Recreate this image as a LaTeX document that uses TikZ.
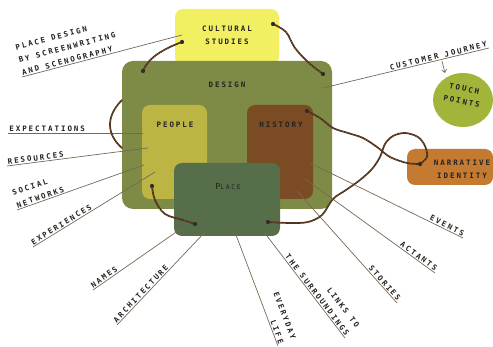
\documentclass[tikz,border=0pt]{standalone}
\usepackage{fontspec}
\usetikzlibrary{arrows.meta,calc,shapes.geometric}
\newfontfamily\labelfont{DejaVu Sans Mono}[LetterSpace=26]

\definecolor{culturalc}{HTML}{F3EF63}
\definecolor{designc}{HTML}{7E8B46}
\definecolor{peoplec}{HTML}{BCB443}
\definecolor{historyc}{HTML}{7B4B23}
\definecolor{placec}{HTML}{566F4A}
\definecolor{narrc}{HTML}{C47B31}
\definecolor{touchc}{HTML}{A3B43B}
\definecolor{linec}{HTML}{7A6654}
\definecolor{ropec}{HTML}{4A2D18}
\definecolor{ropetw}{HTML}{8C6644}
\definecolor{txt}{HTML}{222222}
\definecolor{dotc}{HTML}{2E2E2E}

\tikzset{
  box/.style={rectangle, rounded corners=8pt, inner sep=0pt, draw=none},
  lbl/.style={font=\labelfont\bfseries\fontsize{7.5}{13}\selectfont, text=txt, inner sep=1pt},
  conn/.style={draw=linec, line width=0.7pt},
  rope/.style={draw=ropec, line width=1.7pt, line cap=round},
  ropetwist/.style={draw=ropetw, line width=0.55pt, dash pattern=on 1pt off 1.6pt},
  knot/.style={circle, fill=dotc, inner sep=0pt, minimum size=4pt},
}
\newcommand\ropepath[1]{\draw[rope] #1; \draw[ropetwist] #1;}

\begin{document}
\begin{tikzpicture}[x=1pt,y=-1pt]
\useasboundingbox (0,0) rectangle (493,347);

% --- coloured areas
\node[box, fill=culturalc, minimum width=104pt, minimum height=56pt] (cultural) at (227,37) {};
\node[box, fill=designc, rounded corners=11pt, minimum width=210pt, minimum height=148pt] (design) at (227,135) {};
\node[box, fill=peoplec, minimum width=65pt, minimum height=94pt] (people) at (174.5,152) {};
\node[box, fill=historyc, minimum width=66pt, minimum height=94pt] (history) at (280,152) {};
\node[box, fill=placec, minimum width=106pt, minimum height=73pt] (place) at (227,199.5) {};
\node[box, fill=narrc, minimum width=86pt, minimum height=36pt] (narrative) at (450,167) {};
\node[ellipse, fill=touchc, minimum width=60pt, minimum height=54pt, inner sep=0pt] (touch) at (463,100) {};

% --- area titles
\node[lbl, align=center] (culturaltxt) at (227,35) {CULTURAL\\STUDIES};
\node[lbl] (designtxt) at (227,85) {DESIGN};
\node[lbl] (peopletxt) at (175,125) {PEOPLE};
\node[lbl] (historytxt) at (281,125) {HISTORY};
\node[lbl, font=\labelfont\fontsize{6.4}{13}\selectfont] (placetxt) at (228,186) {{\fontsize{8.4}{13}\selectfont P}LACE};
\node[lbl, align=center] (narrtxt) at (462,169) {NARRATIVE\\IDENTITY};
\node[lbl, align=center, rotate=-12] (touchtxt) at (463,95) {TOUCH\\POINTS};

% --- end points of the label lines
\coordinate (pdA) at (22,77);   \coordinate (pdB) at (182,35);
\coordinate (cjA) at (323,88);  \coordinate (cjB) at (489,48);
\coordinate (exA) at (8,133);   \coordinate (exB) at (143,133);
\coordinate (rsA) at (7,166);   \coordinate (rsB) at (148,148);
\coordinate (snA) at (17,210);  \coordinate (snB) at (144,165);
\coordinate (xpA) at (33,247);  \coordinate (xpB) at (155,172);
\coordinate (nmA) at (93,290);  \coordinate (nmB) at (182,228);
\coordinate (arA) at (117,325); \coordinate (arB) at (205,232);
\coordinate (lfA) at (233,227); \coordinate (lfB) at (278,346);
\coordinate (suA) at (264,232); \coordinate (suB) at (345,338);
\coordinate (stA) at (297,191); \coordinate (stB) at (397,303);
\coordinate (acA) at (305,179); \coordinate (acB) at (435,273);
\coordinate (evA) at (310,163); \coordinate (evB) at (463,238);

% --- label lines with their texts
\draw[conn] (pdA) -- (pdB) node[lbl, at start, sloped, anchor=south west, align=left] (pdtxt) {PLACE DESIGN\\BY SCREENWRITING\\AND SCENOGRAPHY};
\draw[conn] (cjA) -- (cjB) node[lbl, at end, sloped, anchor=south east] (cjtxt) {CUSTOMER JOURNEY};
\draw[conn] (exA) -- (exB) node[lbl, at start, sloped, anchor=south west] (extxt) {EXPECTATIONS};
\draw[conn] (rsA) -- (rsB) node[lbl, at start, sloped, anchor=south west] (rstxt) {RESOURCES};
\draw[conn] (snA) -- (snB) node[lbl, at start, sloped, anchor=south west, align=left] (sntxt) {SOCIAL\\NETWORKS};
\draw[conn] (xpA) -- (xpB) node[lbl, at start, sloped, anchor=south west] (xptxt) {EXPERIENCES};
\draw[conn] (nmA) -- (nmB) node[lbl, at start, sloped, anchor=south west] (nmtxt) {NAMES};
\draw[conn] (arA) -- (arB) node[lbl, at start, sloped, anchor=south west] (artxt) {ARCHITECTURE};
\draw[conn] (lfA) -- (lfB) node[lbl, at end, sloped, anchor=south east, align=right] (lftxt) {EVERYDAY\\LIFE};
\draw[conn] (suA) -- (suB) node[lbl, at end, sloped, anchor=south east, align=right] (sutxt) {LINKS TO\\THE SURROUNDINGS};
\draw[conn] (stA) -- (stB) node[lbl, at end, sloped, anchor=south east] (sttxt) {STORIES};
\draw[conn] (acA) -- (acB) node[lbl, at end, sloped, anchor=south east] (actxt) {ACTANTS};
\draw[conn] (evA) -- (evB) node[lbl, at end, sloped, anchor=south east] (evtxt) {EVENTS};

% small arrow from the journey to the touch points
\coordinate (arrA) at (442,61);
\coordinate (arrB) at (445,73);
\draw[conn, -{Straight Barb[length=3pt,width=5pt]}] (arrA) -- (arrB);

% --- knots of the ropes
\node[knot] (kd1) at (143,71) {};
\node[knot] (kc1) at (182,42) {};
\node[knot] (kc2) at (273,24) {};
\node[knot] (kd2) at (323,74) {};
\node[knot] (kpe) at (152,186) {};
\node[knot] (kpl1) at (195,224) {};
\node[knot] (khi) at (307,111) {};
\node[knot] (kna) at (420,164) {};
\node[knot] (kpl2) at (268,222) {};
\coordinate (r3a) at (122,100);
\coordinate (r3b) at (122,148);

% --- ropes
\ropepath{(kd1.center) .. controls (148,58) and (163,49) .. (kc1.center)}
\ropepath{plot[smooth, tension=0.6] coordinates {(kc2.center) (286,32) (295,48) (309,63) (kd2.center)}}
\ropepath{(r3a) .. controls (106,116) and (106,134) .. (r3b)}
\ropepath{plot[smooth, tension=0.6] coordinates {(kpe.center) (155,200) (165,214) (183,220) (kpl1.center)}}
\ropepath{plot[smooth, tension=0.55] coordinates {(khi.center) (320,118) (333,128) (348,133) (363,138) (377,147) (390,157) (407,163) (kna.center)}}
\ropepath{plot[smooth, tension=0.55] coordinates {(kna.center) (427,157) (425,146) (418,137) (405,133) (393,136) (385,144) (380,157) (372,169) (360,180) (346,190) (333,199) (322,215) (308,222) (290,223) (kpl2.center)}}

% knots drawn over the rope ends
\foreach \k in {kd1,kc1,kc2,kd2,kpe,kpl1,khi,kna,kpl2}
  \fill[dotc] (\k) circle (2pt);
\end{tikzpicture}
\end{document}
